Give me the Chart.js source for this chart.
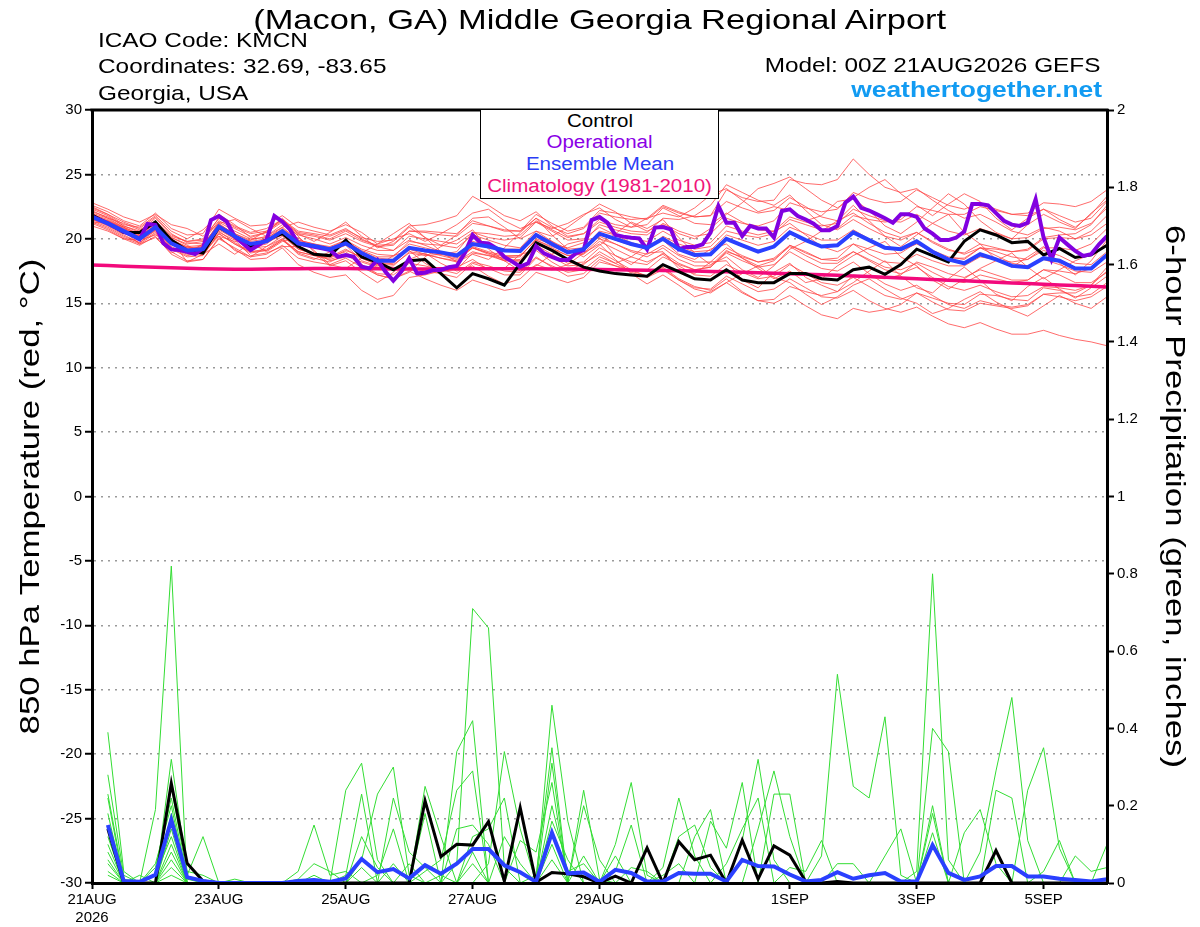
<!DOCTYPE html>
<html>
<head>
<meta charset="utf-8">
<script src="https://cdn.jsdelivr.net/npm/chart.js@4.4.1/dist/chart.umd.min.js"></script>
<style>
  body { margin: 0; background: #fff; }
  #wrap { position: relative; width: 1200px; height: 927px; font-family: "Liberation Sans", Arial, sans-serif; color: #000; }
  #c { position: absolute; left: 0; top: 0; }
  .t { position: absolute; white-space: nowrap; line-height: 1; }
  .t span { display: inline-block; }
  .l span { transform-origin: left center; transform: scaleX(1.16); }
  .r span { transform-origin: right center; transform: scaleX(1.16); }
  .c span { transform-origin: center center; }
  #legbox { position: absolute; left: 480px; top: 109px; width: 237px; height: 88px; border: 1.5px solid #000; background: #fff; }
</style>
</head>
<body>
<div id="wrap">
  <canvas id="c" width="1200" height="927"></canvas>
  <div class="t c" style="left:0;width:1200px;text-align:center;top:6px;font-size:28px;"><span style="transform:scaleX(1.23)">(Macon, GA) Middle Georgia Regional Airport</span></div>
  <div class="t l" style="left:98px;top:29px;font-size:21px;"><span>ICAO Code: KMCN</span></div>
  <div class="t l" style="left:98px;top:55px;font-size:21px;"><span>Coordinates: 32.69, -83.65</span></div>
  <div class="t l" style="left:98px;top:82px;font-size:21px;"><span>Georgia, USA</span></div>
  <div class="t r" style="right:100px;top:54px;font-size:21px;text-align:right;"><span>Model: 00Z 21AUG2026 GEFS</span></div>
  <div class="t r" style="right:98px;top:79px;font-size:22px;font-weight:bold;color:#129bf2;text-align:right;"><span style="transform:scaleX(1.2)">weathertogether.net</span></div>
  <div id="legbox"></div>
  <div class="t c" style="left:480px;width:240px;text-align:center;top:112px;font-size:18px;"><span style="transform:scaleX(1.14)">Control</span></div>
  <div class="t c" style="left:480px;width:240px;text-align:center;top:133px;font-size:18px;color:#8a00e6;"><span style="transform:scaleX(1.14)">Operational</span></div>
  <div class="t c" style="left:480px;width:240px;text-align:center;top:155px;font-size:18px;color:#2a3cf5;"><span style="transform:scaleX(1.14)">Ensemble Mean</span></div>
  <div class="t c" style="left:480px;width:240px;text-align:center;top:177px;font-size:18px;color:#f0147a;"><span style="transform:scaleX(1.14)">Climatology (1981-2010)</span></div>
</div>
<script>
// forecast steps (hours between points)
const stepHours = 6;
const operStepHours = 3;
const dateTicks = [0, 48, 96, 144, 192, 264, 312, 360];
const dateLabels = ["21AUG", "23AUG", "25AUG", "27AUG", "29AUG", "1SEP", "3SEP", "5SEP"];
const leftTitle = "850 hPa Temperature (red, \u00B0C)";
const rightTitle = "6-hour Precipitation (green, inches)";

// 850 hPa temperature, 6-hourly
const tempControl = [21.85,21.2,20.5,20.5,21.3,19.9,19.1,18.9,20.9,20.2,19.4,19.9,20.4,
  19.4,18.8,18.7,19.9,18.6,18.2,17.6,18.3,18.4,17.3,16.2,17.3,16.9,
  16.4,18.1,19.7,19.1,18.4,17.8,17.5,17.3,17.2,17.1,18.0,17.45,16.9,
  16.8,17.6,16.8,16.6,16.6,17.3,17.3,16.9,16.8,17.6,17.8,17.25,18.0,
  19.2,18.7,18.2,19.8,20.7,20.3,19.7,19.8,18.75,19.25,18.55,18.75,19.5];

const tempMean = [21.7,21.2,20.6,20.0,20.9,19.65,19.1,19.2,20.95,20.2,19.6,19.8,20.6,
  19.65,19.45,19.2,19.65,18.9,18.3,18.3,19.3,19.1,18.95,18.7,19.6,19.4,
  19.1,19.05,20.3,19.6,18.95,19.2,20.4,20.0,19.6,19.3,20.0,19.2,18.75,
  18.8,20.0,19.5,19.0,19.4,20.5,19.9,19.4,19.5,20.5,19.9,19.3,19.2,
  19.8,19.0,18.4,18.1,18.8,18.4,17.9,17.8,18.5,18.3,17.7,17.7,18.75];

const tempClim = [17.97,17.93,17.88,17.84,17.80,17.76,17.72,17.68,17.65,17.64,
  17.64,17.65,17.67,17.68,17.69,17.69,17.69,17.68,17.67,17.66,
  17.65,17.66,17.67,17.68,17.68,17.68,17.68,17.68,17.67,17.66,
  17.65,17.64,17.62,17.60,17.58,17.56,17.54,17.52,17.50,17.47,
  17.45,17.41,17.37,17.33,17.29,17.25,17.21,17.17,17.12,17.07,
  17.01,16.96,16.91,16.85,16.79,16.74,16.68,16.63,16.58,16.53,
  16.48,16.42,16.37,16.32,16.27];

// operational run, 3-hourly
const tempOper = [21.72,21.46,21.2,20.89,20.56,20.3,19.96,21.15,
  21.07,19.65,19.18,19.13,19.0,18.82,19.26,21.46,
  21.77,21.33,20.17,19.65,19.13,19.52,19.91,21.77,
  21.33,20.69,19.65,19.52,19.39,19.26,19.13,18.6,
  18.74,18.6,17.84,17.71,18.36,17.45,16.75,17.45,
  18.49,17.32,17.37,17.58,17.58,17.79,17.89,18.87,
  20.3,19.7,19.65,19.26,18.6,18.23,17.84,18.1,
  19.44,18.87,18.6,18.36,18.36,18.87,19.13,21.46,
  21.69,21.25,20.30,20.17,20.09,20.04,19.19,20.87,
  20.92,20.74,19.19,19.37,19.37,19.57,20.48,22.55,
  21.25,21.25,20.22,21.0,20.8,20.8,20.1,22.16,
  22.29,21.77,21.5,21.18,20.66,20.66,21.0,22.8,
  23.27,22.4,22.2,21.9,21.6,21.25,21.9,21.9,
  21.7,20.8,20.4,19.9,19.9,20.1,20.56,22.7,
  22.7,22.6,22.0,21.4,21.1,21.0,21.25,23.06,
  20.1,18.4,20.1,19.57,19.06,18.67,18.8,19.57,
  20.2];

// ensemble members, 850 hPa temperature
const tempMembers = [
  [22.3,21.8,21.0,20.6,21.6,20.3,19.8,19.9,21.6,20.9,20.4,20.6,21.4,20.5,20.3,20.0,
   20.6,19.9,19.5,19.6,20.6,20.5,20.3,20.2,21.2,21.0,20.7,20.6,21.9,21.2,20.6,20.9,
   22.2,22.0,21.7,21.5,22.5,22.0,21.7,21.8,23.8,23.2,22.9,23.0,24.6,24.3,24.2,24.6,
   26.2,25.0,24.0,23.6,23.9,23.0,22.2,21.6,21.9,21.3,20.6,20.3,20.9,20.6,20.0,20.3,21.2],
  [21.4,20.9,20.2,19.7,20.5,19.2,18.6,18.7,20.4,19.6,19.0,19.2,20.0,19.0,18.7,18.4,
   18.8,18.0,17.3,17.2,18.1,17.9,17.6,17.3,18.2,17.9,17.5,17.4,18.6,17.8,17.1,17.3,
   18.4,17.9,17.4,17.0,17.6,16.8,16.2,16.1,17.1,16.5,15.9,16.1,16.9,16.2,15.5,15.4,
   16.0,15.2,14.6,14.3,14.7,14.0,13.4,13.1,13.5,13.0,12.6,12.6,12.9,12.5,12.2,12.0,11.7],
  [21.9,21.5,20.9,20.4,21.3,20.0,19.3,19.4,21.2,20.3,19.5,19.7,20.3,19.2,18.8,18.6,
   19.0,18.0,17.2,16.9,17.8,17.5,17.3,17.0,18.1,17.7,17.2,17.2,18.5,17.9,17.4,17.6,
   18.6,18.1,17.5,17.1,17.8,16.9,16.3,16.0,16.9,15.9,15.2,15.0,15.6,14.8,14.1,13.8,
   14.6,14.3,14.5,14.9,15.8,15.4,15.0,14.9,15.7,15.6,15.3,15.2,16.2,16.0,15.5,15.7,16.6],
  [22.0,21.6,21.2,20.7,21.4,20.2,19.8,20.0,21.6,21.0,20.5,20.8,21.5,20.6,20.4,20.2,
   20.7,20.1,19.8,19.9,21.0,21.1,21.4,21.8,23.3,22.6,21.8,21.4,22.1,21.0,20.2,20.4,
   21.3,20.9,20.6,20.5,21.6,21.5,21.8,22.6,24.2,23.6,23.0,22.6,23.4,22.2,21.1,20.7,
   21.5,20.8,20.2,19.9,20.5,19.8,19.2,18.8,19.3,18.7,18.1,17.9,18.4,18.0,17.5,17.4,18.2],
  [21.3,20.8,20.1,19.6,20.4,19.0,18.3,18.4,20.1,19.2,18.4,18.5,19.3,18.0,17.4,17.0,
   17.2,16.0,15.3,15.6,17.0,17.2,17.5,17.6,18.9,18.7,18.3,18.4,19.7,19.2,18.7,18.9,
   20.0,19.6,19.1,18.8,19.5,18.7,18.2,18.2,19.3,18.7,18.2,18.4,19.4,18.7,18.1,18.1,
   19.0,18.3,17.6,17.3,17.8,17.0,16.3,16.0,16.4,15.9,15.5,15.6,16.3,16.2,16.0,16.4,17.5],
  [22.6,22.1,21.4,21.0,22.0,20.8,20.3,20.4,22.3,21.6,21.0,21.1,21.8,20.9,20.6,20.3,
   20.8,20.0,19.4,19.1,19.9,19.5,19.0,18.6,19.3,18.9,18.6,18.7,19.9,19.4,19.0,19.3,
   20.6,20.3,20.0,19.8,20.6,19.9,19.5,19.7,21.0,20.6,20.3,20.6,21.7,21.3,21.0,21.2,
   22.3,21.8,21.4,21.3,21.9,21.2,20.6,20.3,20.8,20.4,20.0,20.1,20.8,20.9,20.7,21.2,22.4],
  [21.5,21.0,20.3,19.7,20.7,19.3,18.7,18.9,20.7,20.0,19.3,19.6,20.5,19.5,19.4,19.2,
   19.8,19.1,18.6,18.6,19.8,19.6,19.5,19.3,20.3,19.9,19.5,19.3,20.6,19.8,19.0,19.1,
   20.2,19.6,19.0,18.6,19.3,18.4,17.9,17.9,19.1,18.5,17.9,18.3,19.5,18.9,18.4,18.5,
   19.6,19.2,18.8,18.9,19.7,19.1,18.6,18.4,19.3,19.0,18.6,18.4,19.1,18.7,18.1,18.0,19.0],
  [21.8,21.3,20.7,20.2,21.1,19.9,19.3,19.3,21.0,20.2,19.6,19.8,20.8,19.9,19.6,19.3,
   19.9,19.0,18.5,18.4,19.2,18.8,18.5,18.2,19.0,18.7,18.5,18.6,20.0,19.6,19.3,19.7,
   21.1,20.7,20.4,20.3,21.2,20.6,20.2,20.4,21.6,21.2,21.0,21.4,22.8,22.4,22.1,22.3,
   23.6,23.1,22.8,22.9,23.8,23.2,22.6,22.3,22.8,22.3,21.9,21.8,22.3,21.8,21.3,21.6,22.9],
  [22.2,21.6,20.9,20.3,21.2,19.8,19.1,19.1,20.6,19.7,19.0,19.1,19.9,18.9,18.5,18.2,
   18.8,18.2,17.8,17.9,19.0,18.8,18.5,18.3,19.3,18.9,18.4,18.3,19.5,18.8,18.1,18.2,
   19.3,18.7,18.2,18.0,18.9,18.1,17.6,17.8,18.9,18.3,17.8,18.0,19.0,18.3,17.7,17.5,
   18.2,17.3,16.5,16.0,16.4,15.6,14.9,14.6,15.2,14.9,14.7,14.9,15.7,15.5,15.2,15.5,16.3],
  [21.6,21.1,20.5,20.0,20.8,19.6,19.2,19.4,21.3,20.6,20.0,20.1,20.7,19.8,19.5,19.3,
   19.7,18.8,18.1,18.0,18.9,18.7,18.8,19.0,20.5,20.4,20.2,20.3,21.4,20.7,20.1,20.4,
   21.5,21.1,20.9,21.1,22.4,21.8,21.2,21.1,22.0,21.3,20.7,20.6,21.2,20.3,19.4,19.0,
   19.6,18.8,18.2,18.1,18.8,18.3,17.9,17.9,18.6,18.4,18.2,18.4,19.3,19.3,19.1,19.6,20.8],
  [21.9,21.4,20.8,20.2,21.0,19.6,19.0,19.1,20.8,20.0,19.3,19.4,20.2,19.2,18.9,18.6,
   19.2,18.5,18.0,18.1,19.2,19.0,18.7,18.4,19.3,18.8,18.3,18.2,19.3,18.6,17.9,18.0,
   19.0,18.3,17.6,17.1,17.7,16.8,16.1,15.8,16.6,15.8,15.2,15.3,16.3,15.9,15.6,15.9,
   17.2,17.0,16.9,17.2,18.2,17.8,17.3,17.0,17.6,17.2,16.8,16.8,17.6,17.5,17.3,17.7,18.9],
  [22.4,21.9,21.3,20.8,21.7,20.4,19.7,19.6,21.1,20.4,19.9,20.2,21.1,20.3,20.0,19.6,
   20.1,19.5,19.1,19.1,20.2,20.0,19.8,19.6,20.5,20.1,19.9,20.1,21.3,20.6,19.9,20.0,
   20.9,20.3,19.7,19.4,20.1,19.4,19.0,19.1,20.3,19.9,19.5,19.8,20.9,20.4,19.9,19.9,
   20.7,20.0,19.3,19.1,19.6,19.0,18.5,18.5,19.3,19.2,19.0,19.1,20.0,20.1,20.0,20.6,21.8],
  [21.2,20.7,20.0,19.5,20.2,18.8,18.2,18.4,20.0,19.3,18.6,18.8,19.5,18.5,18.2,18.0,
   18.5,17.8,17.2,16.9,17.5,16.9,16.4,16.0,16.8,16.4,16.0,16.2,17.4,17.0,16.6,17.0,
   18.2,17.9,17.6,17.6,18.6,18.0,17.6,17.8,19.0,18.6,18.2,18.5,19.5,19.0,18.4,18.3,
   19.0,18.4,17.8,17.6,18.1,17.4,16.8,16.6,17.2,16.9,16.6,16.8,17.6,17.2,16.6,16.6,17.4],
  [22.1,21.7,21.0,20.5,21.3,20.1,19.6,19.8,21.4,20.8,20.2,20.5,21.3,20.4,20.2,19.9,
   20.4,19.8,19.4,19.5,20.6,20.6,20.5,20.4,21.4,21.0,20.6,20.6,21.6,20.9,20.4,20.8,
   22.0,21.7,21.5,21.6,22.6,22.1,21.7,21.8,22.9,22.4,22.0,22.2,23.2,22.5,21.7,21.4,
   22.0,21.2,20.5,20.1,20.5,19.7,19.1,18.9,19.6,19.3,19.0,19.2,20.1,20.3,20.4,21.1,22.6],
  [21.7,21.2,20.5,19.9,20.7,19.4,18.8,18.8,20.4,19.6,18.9,19.1,19.9,19.0,18.7,18.5,
   19.1,18.6,18.2,18.2,19.3,19.1,18.8,18.5,19.4,19.0,18.7,18.7,19.9,19.3,18.7,18.8,
   19.8,19.2,18.6,18.2,18.8,17.9,17.2,17.1,18.0,17.4,16.9,17.1,18.0,17.3,16.6,16.4,
   17.0,16.3,15.6,15.3,15.8,15.1,14.5,14.4,15.0,14.8,14.6,14.8,15.7,15.8,15.8,16.4,17.8],
  [21.8,21.4,20.8,20.3,21.2,19.9,19.4,19.5,21.1,20.4,19.8,20.0,20.9,19.9,19.6,19.4,
   19.9,19.2,18.8,18.7,19.6,19.3,19.0,18.8,19.8,19.5,19.2,19.2,20.4,19.8,19.2,19.3,
   20.4,19.9,19.5,19.3,20.2,19.6,19.2,19.4,20.6,20.3,20.1,20.4,21.5,21.1,20.7,20.8,
   21.8,21.5,21.3,21.5,22.5,22.2,21.9,21.9,22.5,22.2,21.9,22.0,22.8,22.7,22.5,22.9,23.8],
  [22.0,21.2,20.4,20.2,21.0,20.1,19.5,18.9,20.2,19.8,19.9,20.6,21.5,20.2,19.0,18.3,
   18.6,18.9,19.6,20.4,21.2,20.1,19.0,18.2,18.8,18.4,19.3,20.5,21.6,20.3,19.2,18.6,
   19.5,20.4,21.3,20.8,21.5,20.1,18.9,18.0,18.6,17.6,17.0,17.9,19.2,19.8,20.6,21.4,
   22.6,21.4,20.2,19.4,20.3,21.2,21.9,20.5,19.6,18.4,17.8,18.6,19.4,18.1,17.2,18.3,19.9],
  [21.2,21.4,20.9,19.9,20.3,19.9,18.2,18.8,19.6,18.8,19.7,19.0,19.8,20.1,19.1,18.0,
   17.7,18.5,18.0,16.9,17.4,18.6,19.4,19.9,20.7,19.2,18.3,17.5,17.9,18.8,19.6,19.9,
   20.1,18.7,18.0,18.9,19.0,17.7,17.3,18.2,18.3,16.8,16.2,17.4,18.1,17.0,16.4,15.9,
   16.6,17.5,18.3,17.1,16.2,15.8,16.9,17.8,16.8,15.7,15.2,16.3,17.0,16.1,15.4,16.2,17.1],
  [22.8,22.3,21.7,21.3,21.9,21.1,20.8,20.2,21.2,21.5,20.8,20.2,20.9,21.3,20.9,20.6,
   21.1,20.5,19.6,20.0,20.4,19.8,20.4,21.1,22.0,22.3,21.4,20.8,21.3,20.8,21.2,21.9,
   22.4,21.5,20.9,21.6,22.0,21.7,22.4,23.4,23.9,23.0,22.1,22.5,22.2,21.4,21.8,22.9,
   23.1,22.2,21.0,20.4,21.3,22.4,23.5,22.7,21.4,20.5,20.0,21.1,21.9,21.3,20.8,22.0,23.0],
  [21.0,20.6,20.0,19.9,20.6,19.2,18.9,19.6,20.2,19.1,18.6,19.4,20.0,18.8,18.4,19.0,
   19.5,18.3,17.9,18.7,19.1,18.1,17.4,17.8,18.4,17.6,17.7,18.8,19.1,18.2,17.5,18.1,
   18.8,18.1,18.6,19.5,19.9,18.8,18.4,19.2,19.6,18.5,17.7,16.9,17.5,16.6,16.9,17.9,
   18.7,19.3,19.8,18.6,17.9,16.8,16.1,16.9,17.7,18.3,18.9,17.8,16.9,17.6,18.3,18.8,19.5],
  [22.5,21.9,21.1,20.9,21.8,20.6,20.0,20.7,21.9,21.1,20.1,20.5,21.6,20.4,19.8,20.5,
   21.3,20.2,19.3,19.8,20.9,20.1,19.5,20.3,21.6,21.7,20.9,20.0,20.6,20.2,20.9,21.8,
   22.7,22.1,21.2,20.6,21.1,20.4,20.0,20.8,21.9,22.8,23.9,24.3,24.8,23.9,23.0,22.4,
   23.2,24.0,24.6,23.5,22.6,21.8,22.7,23.5,22.9,21.6,20.7,21.6,22.3,21.5,20.9,21.9,23.3],
  [21.5,21.1,20.6,19.6,20.1,18.9,19.4,19.0,20.5,19.9,18.7,18.9,19.4,19.4,18.9,17.9,
   18.3,17.4,16.6,17.4,18.4,18.9,18.1,17.5,17.9,17.1,16.5,16.9,18.0,17.6,18.0,18.9,
   19.6,18.4,17.3,16.5,17.2,16.4,15.5,15.9,16.6,17.3,17.9,17.0,16.6,15.7,14.9,15.5,
   16.4,16.9,16.1,15.4,15.0,14.2,14.6,15.3,15.9,15.1,14.5,14.0,14.8,15.6,15.0,14.6,15.5]
];

// 6-hour precipitation (inches); no value at hour 0
const precipControl = [null,0.14,0,0,0,0.258,0.051,0.005,0,0,0,0,0,
  0,0,0,0,0,0,0,0,0.213,0.068,0.10,0.098,0.159,
  0.005,0.195,0.002,0.027,0.024,0.016,0,0.018,0,0.091,0,0.107,0.06,
  0.072,0,0.111,0.01,0.096,0.072,0.004,0,0.004,0,0,0,0,
  0,0,0,0,0,0.084,0,0,0,0,0,0,0];

const precipMean = [null,0.15,0.005,0.003,0.021,0.163,0.015,0.005,0,0,0,0,0,
  0.005,0.008,0.003,0.012,0.062,0.028,0.036,0.012,0.046,0.024,0.05,0.088,0.088,
  0.046,0.028,0.003,0.13,0.025,0.027,0.003,0.034,0.026,0.004,0.004,0.026,0.024,
  0.024,0.004,0.06,0.044,0.043,0.022,0.004,0.008,0.028,0.011,0.02,0.026,0.004,
  0.004,0.098,0.026,0.008,0.017,0.044,0.044,0.017,0.017,0.011,0.008,0.004,0.01];

const precipMembers = [
  [null,.28,.02,0,.04,.22,.01,0,0,0,0,0,0, 0,0,0,0,.12,.04,0,0,0,0,.05,.71,.66, .04,0,0,0,0,0,0,0,0,0,0,0,0, 0,.05,.14,.22,0,0,0,0,0,0,0,0,0, 0,0,0,0,0,0,0,0,.03,.11,0,0,0],
  [null,.22,0,.02,0,.32,.03,.02,0,0,0,0,0, 0,0,0,0,0,.02,.14,0,0,0,0,.08,0, 0,0,0,.46,.16,0,0,0,0,0,0,0,0, 0,0,0,0,.23,.23,0,0,0,0,0,0,0, 0,0,0,0,0,0,0,0,0,0,.07,.03,.04],
  [null,.39,.03,0,.05,.20,0,0,0,0,0,0,0, 0,0,0,0,0,0,0,.05,0,.02,0,.05,0, 0,0,0,.31,0,.24,.01,0,0,0,0,0,0, 0,0,0,0,0,.04,.03,.11,0,0,0,0,0, 0,0,0,0,0,.24,.22,0,0,0,0,0,0],
  [null,.18,0,0,0,.25,.02,.12,0,0,0,0,0, 0,0,0,0,0,0,0,0,.18,0,0,0,.05, .34,.14,0,0,0,0,0,0,0,0,0,0,0, 0,0,0,0,0,0,0,.07,.54,.25,.22,.43,.02, 0,0,0,0,0,0,0,0,0,0,0,0,0],
  [null,.23,.01,0,0,.18,0,0,0,0,0,0,0, 0,0,0,0,.04,0,0,0,0,0,.34,.42,0, 0,0,0,0,0,.20,.06,0,0,0,0,0,0, 0,0,0,.14,.29,.12,0,0,0,0,0,0,0, 0,0,0,0,0,0,0,0,0,0,0,0,.10],
  [null,.12,0,0,0,.16,0,0,0,.01,0,0,0, 0,0,0,0,0,0,0,0,.03,.06,.24,.29,0, 0,0,0,.06,0,0,0,.10,.26,.02,0,0,0, 0,0,0,0,0,0,0,0,.05,.05,0,0,0, 0,0,0,0,0,0,0,.24,.35,.09,0,0,0],
  [null,.08,0,0,.19,.82,0,0,0,0,0,0,0, 0,0,0,0,0,0,0,0,0,0,0,0,0, 0,.11,.08,.26,0,0,0,0,0,0,.02,.05,0, 0,0,0,0,0,0,0,0,0,0,0,.07,.14, 0,0,0,0,0,0,0,0,0,0,0,0,0],
  [null,.10,0,0,0,.14,0,0,0,0,0,0,0, .03,.15,.02,.03,0,0,0,0,0,0,0,0,0, .12,.05,0,0,0,0,0,.03,.15,0,0,0,0, 0,0,0,0,0,0,0,0,0,0,0,0,0, .03,.80,.06,0,0,0,0,0,0,0,0,0,0],
  [null,.06,0,0,.02,.12,0,0,0,0,0,0,0, 0,.02,0,0,0,0,0,0,.25,.12,0,0,0, 0,0,0,.20,.03,.05,0,0,0,0,0,0,.12, .19,0,0,0,0,0,0,0,0,0,0,0,0, 0,.20,0,0,0,0,0,0,0,0,0,0,0],
  [null,.05,0,0,0,.10,0,0,0,0,0,0,0, .01,.05,.03,0,0,0,0,0,0,0,.14,.15,.10, 0,0,0,0,0,0,0,0,0,0,0,0,0, .16,.09,.26,0,0,0,0,0,0,0,0,0,0, 0,0,0,0,.08,.29,.48,.11,0,0,0,0,0],
  [null,.02,0,0,0,.08,0,0,0,0,0,0,0, 0,0,0,.24,.31,.06,0,0,0,0,0,0,0, 0,0,0,.16,.06,0,0,0,.04,.03,0,0,0, 0,0,0,0,0,0,0,0,0,0,0,0,0, 0,.40,.34,0,0,0,0,0,0,0,0,0,0],
  [null,.03,0,0,0,.06,0,0,0,0,0,0,0, 0,0,0,.02,.23,0,.05,0,0,0,0,.12,.14, .22,0,0,0,0,0,0,0,0,0,.04,.22,.07, 0,0,0,0,0,0,0,0,0,0,0,0,0, 0,.18,0,0,0,0,0,0,0,0,0,0,0],
  [null,0,0,0,0,.04,0,0,0,0,0,0,0, 0,0,0,0,.06,.23,.30,.02,0,0,0,0,0, 0,0,0,.10,0,.07,0,.07,0,0,0,0,0, 0,0,.11,.32,.06,0,0,0,0,0,0,0,0, 0,0,0,0,0,0,0,0,0,0,0,0,0],
  [null,0,0,0,0,.02,0,0,0,0,0,0,0, 0,0,0,0,0,0,.22,.08,.04,0,0,0,0, 0,0,.02,.35,0,0,0,0,0,0,0,.12,.15, .04,0,0,0,0,0,0,0,0,0,0,0,0, 0,.13,0,.13,.19,.05,0,0,0,0,0,0,0]
];

function pts(vals, step) {
  return vals.map((v, i) => ({ x: i * step, y: v }));
}

function line(label, vals, step, axis, color, width, order) {
  return {
    label: label,
    data: pts(vals, step),
    yAxisID: axis,
    borderColor: color,
    borderWidth: width,
    pointRadius: 0,
    tension: 0,
    fill: false,
    order: order
  };
}

const datasets = [
  line("Ensemble Mean", tempMean, stepHours, "y", "#2a40ff", 4, 0),
  line("Ensemble Mean precip", precipMean, stepHours, "y2", "#2a40ff", 4, 0),
  line("Operational", tempOper, operStepHours, "y", "#8200e0", 4, 1),
  line("Control", tempControl, stepHours, "y", "#000000", 3, 2),
  line("Control precip", precipControl, stepHours, "y2", "#000000", 3, 2),
  line("Climatology", tempClim, stepHours, "y", "#f20a7c", 3.5, 3)
];
precipMembers.forEach((m, k) => datasets.push(line("p" + k, m, stepHours, "y2", "#33dd33", 1, 5)));
tempMembers.forEach((m, k) => datasets.push(line("t" + k, m, stepHours, "y", "rgba(255,70,70,0.8)", 1, 6)));

// top border of the plot box and the stretched axis titles
const framePlugin = {
  id: "frame",
  afterDraw(chart) {
    const { ctx, chartArea: a } = chart;
    ctx.save();
    ctx.strokeStyle = "#000";
    ctx.lineWidth = 3;
    ctx.beginPath();
    ctx.moveTo(a.left - 1.5, a.top);
    ctx.lineTo(a.right + 1.5, a.top);
    ctx.stroke();
    ctx.fillStyle = "#000";
    ctx.font = '28.5px "Liberation Sans", Arial, sans-serif';
    ctx.textAlign = "center";
    ctx.textBaseline = "middle";
    const cy = (a.top + a.bottom) / 2;
    ctx.save();
    ctx.translate(31, cy);
    ctx.rotate(-Math.PI / 2);
    ctx.scale(1.22, 1);
    ctx.fillText(leftTitle, 0, 0);
    ctx.restore();
    ctx.save();
    ctx.translate(1174, cy);
    ctx.rotate(Math.PI / 2);
    ctx.scale(1.22, 1);
    ctx.fillText(rightTitle, 0, 0);
    ctx.restore();
    ctx.restore();
  }
};

Chart.defaults.font.family = '"Liberation Sans", Arial, sans-serif';
Chart.defaults.color = "#000";

new Chart(document.getElementById("c"), {
  type: "line",
  data: { datasets: datasets },
  plugins: [framePlugin],
  options: {
    responsive: false,
    animation: false,
    layout: { padding: { top: 110, left: 0, right: 0, bottom: 0 } },
    plugins: { legend: { display: false }, tooltip: { enabled: false } },
    scales: {
      x: {
        type: "linear",
        min: 0,
        max: 384,
        afterBuildTicks: (s) => { s.ticks = dateTicks.map(v => ({ value: v })); },
        afterFit: (s) => { s.height = 44; },
        ticks: {
          autoSkip: false,
          maxRotation: 0,
          padding: 2,
          font: { size: 15 },
          callback: (v, i) => i === 0 ? [dateLabels[0], "2026"] : dateLabels[i]
        },
        grid: { drawOnChartArea: false, drawTicks: true, tickLength: 6, tickColor: "#000", tickWidth: 2 },
        border: { display: true, color: "#000", width: 3, z: 1 }
      },
      y: {
        position: "left",
        min: -30,
        max: 30,
        afterFit: (s) => { s.width = 92; },
        ticks: { stepSize: 5, padding: 3, font: { size: 15 } },
        grid: { color: "#9a9a9a", lineWidth: 1.5, drawTicks: true, tickLength: 7, tickColor: "#000", tickWidth: 2, tickBorderDash: [] },
        border: { display: true, color: "#000", width: 3, dash: [2, 5], z: 1 }
      },
      y2: {
        position: "right",
        min: 0,
        max: 2,
        afterFit: (s) => { s.width = 93; },
        ticks: {
          stepSize: 0.2,
          padding: 3,
          font: { size: 15 },
          callback: (v) => String(Math.round(v * 10) / 10)
        },
        grid: { drawOnChartArea: false, drawTicks: true, tickLength: 7, tickColor: "#000", tickWidth: 2 },
        border: { display: true, color: "#000", width: 3, z: 1 }
      }
    }
  }
});
</script>
</body>
</html>
